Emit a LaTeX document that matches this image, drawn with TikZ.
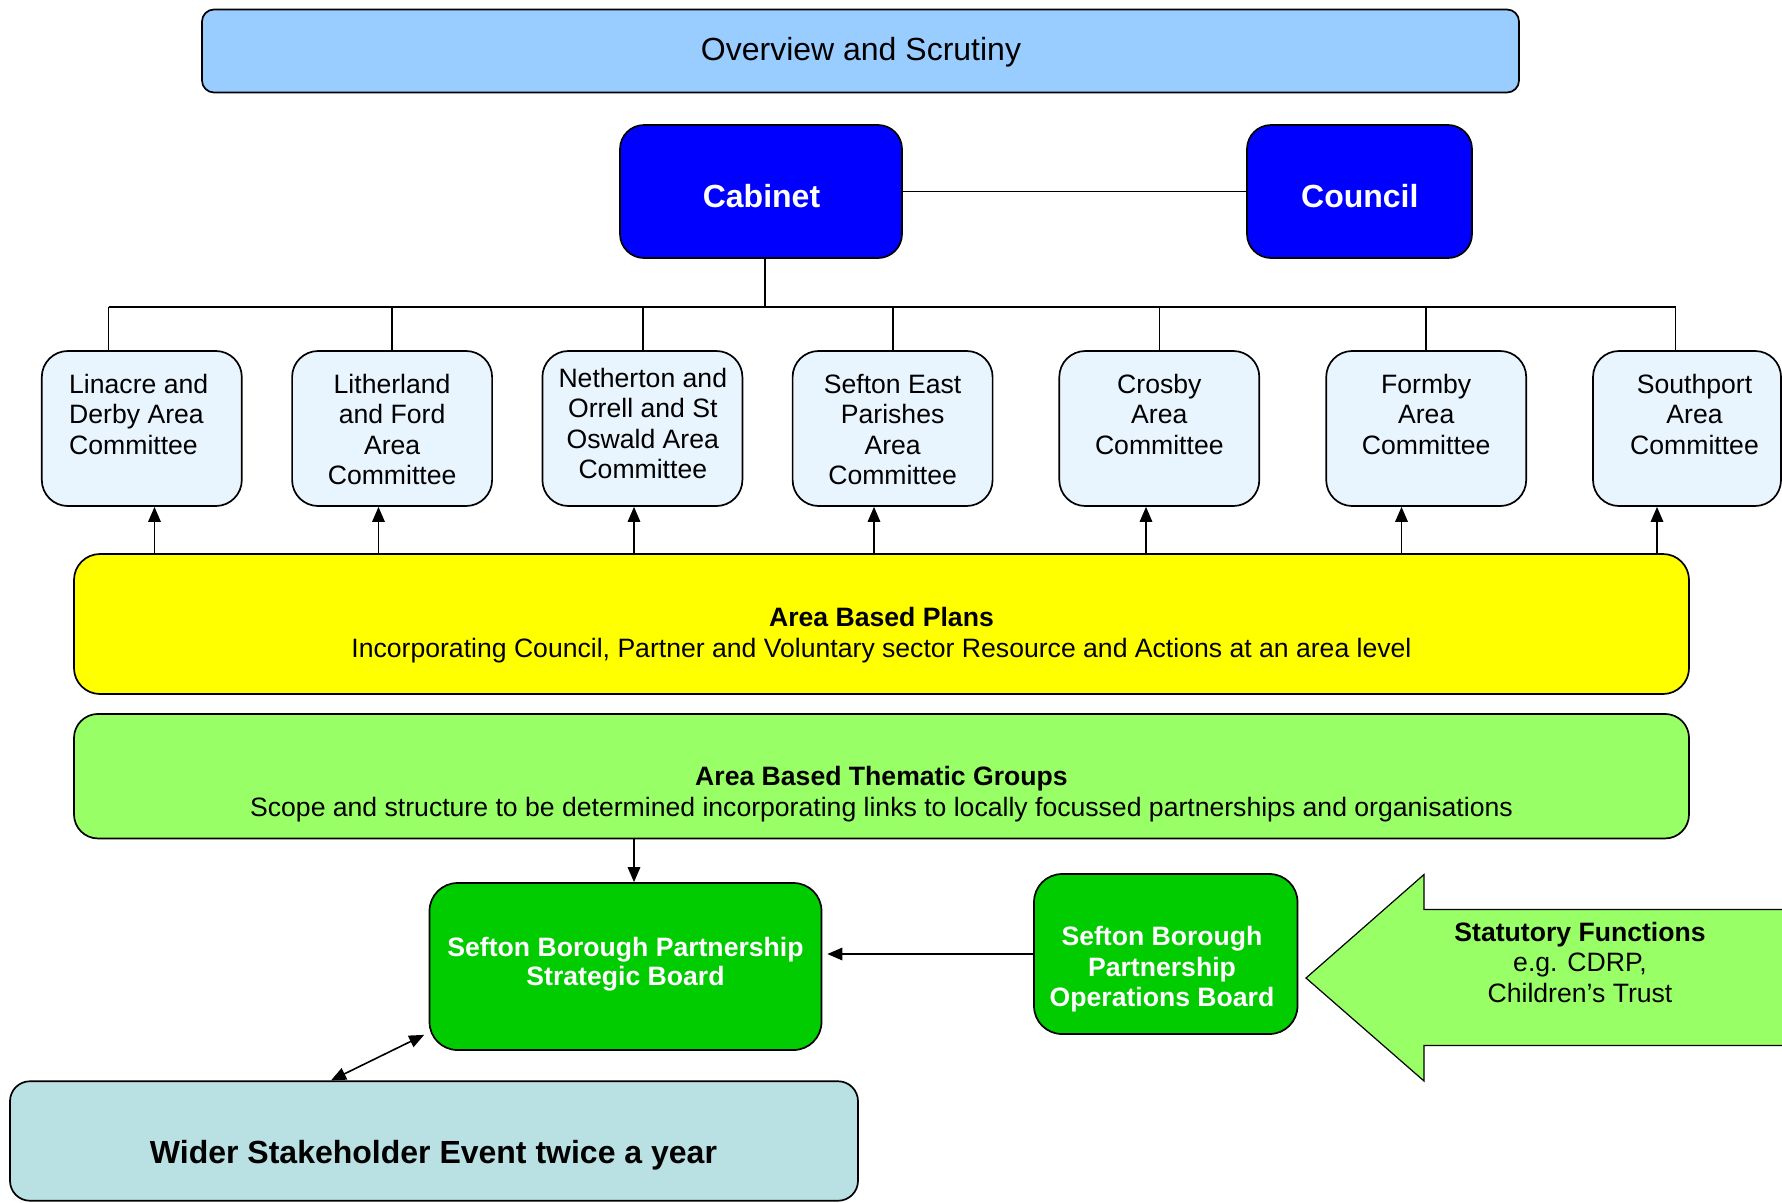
\documentclass[tikz,border=0pt]{standalone}
\usepackage{fontspec}
\setmainfont{Liberation Sans}
\usetikzlibrary{arrows.meta}
\definecolor{ovfill}{HTML}{99CCFF}
\definecolor{cabfill}{HTML}{0000FF}
\definecolor{comfill}{HTML}{E8F4FE}
\definecolor{yelfill}{HTML}{FFFF00}
\definecolor{thmfill}{HTML}{99FF66}
\definecolor{sbpfill}{HTML}{00CC00}
\definecolor{widfill}{HTML}{B9E0E2}
\begin{document}
\begin{tikzpicture}[x=1pt,y=-1pt,
  box/.style={draw=black,line width=1.7pt,inner sep=0pt,rounded corners=#1},
  box/.default=24pt,
  conn/.style={line width=1.6pt},
  arr/.style={line width=1.6pt,-{Triangle[length=15pt,width=12.5pt]}},
  dblarr/.style={line width=1.6pt,{Triangle[length=15pt,width=12.5pt]}-{Triangle[length=15pt,width=12.5pt]}},
  txt/.style={font=\fontsize{26.6}{30.6}\selectfont,align=center,inner sep=0pt,anchor=base},
  bigtxt/.style={font=\fontsize{32}{38}\selectfont\bfseries,inner sep=0pt,anchor=base},
  combox/.style={box=26pt,fill=comfill,minimum width=200pt,minimum height=155pt},
]
\clip (0,0) rectangle (1782,1202);

% Overview and Scrutiny
\node[box=12pt,fill=ovfill,minimum width=1317pt,minimum height=83pt] (ov) at (860.5,51) {};
\node[txt,font=\fontsize{32}{38}\selectfont] (ovt) at (861,60) {Overview and Scrutiny};

% Cabinet and Council
\node[box=24pt,fill=cabfill,minimum width=282pt,minimum height=133pt] (cab) at (761,191.5) {};
\node[bigtxt,text=white] (cabt) at (761.5,207) {Cabinet};
\node[box=24pt,fill=cabfill,minimum width=225pt,minimum height=133pt] (cou) at (1359.5,191.5) {};
\node[bigtxt,text=white] (cout) at (1359.8,207) {Council};
\draw[conn] (cab.east) -- (cou.west);

% Area committees
\node[combox] (c1) at (141.8,428.5) {};
\node[combox] (c2) at (392.1,428.5) {};
\node[combox] (c3) at (642.4,428.5) {};
\node[combox] (c4) at (892.6,428.5) {};
\node[combox] (c5) at (1159.3,428.5) {};
\node[combox] (c6) at (1426.2,428.5) {};
\node[combox,minimum width=188pt] (c7) at (1687,428.5) {};

% (base anchor of a multi-line node = baseline of its last line)
\node[txt,align=left,anchor=base west] (c1t) at (69,454.2) {Linacre and\\Derby Area\\Committee};
\node[txt] (c2t) at (392.1,484.8) {Litherland\\and Ford\\Area\\Committee};
\node[txt] (c3t) at (642.8,478.8) {Netherton and\\Orrell and St\\Oswald Area\\Committee};
\node[txt] (c4t) at (892.6,484.8) {Sefton East\\Parishes\\Area\\Committee};
\node[txt] (c5t) at (1159.3,454.2) {Crosby\\Area\\Committee};
\node[txt] (c6t) at (1426.2,454.2) {Formby\\Area\\Committee};
\node[txt] (c7t) at (1694.5,454.2) {Southport\\Area\\Committee};

% tree from Cabinet
\coordinate (bus) at (765,306.7);
\draw[conn] (765,0 |- cab.south) -- (bus);
\draw[conn] (108.5,0 |- bus) -- (1675.6,0 |- bus);
\draw[conn] (108.5,0 |- bus) -- (108.5,0 |- c1.north);
\draw[conn] (392.1,0 |- bus) -- (392.1,0 |- c2.north);
\draw[conn] (643,0 |- bus) -- (643,0 |- c3.north);
\draw[conn] (893,0 |- bus) -- (893,0 |- c4.north);
\draw[conn] (1159.3,0 |- bus) -- (1159.3,0 |- c5.north);
\draw[conn] (1426.2,0 |- bus) -- (1426.2,0 |- c6.north);
\draw[conn] (1675.6,0 |- bus) -- (1675.6,0 |- c7.north);

% Area Based Plans
\node[box=26pt,fill=yelfill,minimum width=1615pt,minimum height=140pt] (yel) at (881.5,624) {};
\node[txt] (yelt) at (881.5,657) {\textbf{Area Based Plans}\\Incorporating Council, Partner and Voluntary sector Resource and Actions at an area level};

\draw[arr] (154.5,0 |- yel.north) -- (154.5,0 |- c1.south);
\draw[arr] (378.5,0 |- yel.north) -- (378.5,0 |- c2.south);
\draw[arr] (634,0 |- yel.north) -- (634,0 |- c3.south);
\draw[arr] (874,0 |- yel.north) -- (874,0 |- c4.south);
\draw[arr] (1146,0 |- yel.north) -- (1146,0 |- c5.south);
\draw[arr] (1401.5,0 |- yel.north) -- (1401.5,0 |- c6.south);
\draw[arr] (1657,0 |- yel.north) -- (1657,0 |- c7.south);

% Area Based Thematic Groups
\node[box=24pt,fill=thmfill,minimum width=1615pt,minimum height=124.5pt] (thm) at (881.5,776.2) {};
\node[txt] (thmt) at (881.5,816.5) {\textbf{Area Based Thematic Groups}\\Scope and structure to be determined incorporating links to locally focussed partnerships and organisations};

% Strategic Board
\node[box=28pt,fill=sbpfill,minimum width=392pt,minimum height=167pt] (str) at (625.5,966.5) {};
\node[txt,text=white,font=\fontsize{26.6}{29.5}\selectfont\bfseries] (strt) at (625.5,985.5) {Sefton Borough Partnership\\Strategic Board};
\draw[arr] (634,0 |- thm.south) -- (634,0 |- str.north);

% Operations Board
\node[box=28pt,fill=sbpfill,minimum width=263.5pt,minimum height=160pt] (ops) at (1165.75,954) {};
\node[txt,text=white,font=\fontsize{26.6}{30.5}\selectfont\bfseries] (opst) at (1162,1006.5) {Sefton Borough\\Partnership\\Operations Board};
\draw[arr,shorten >=5pt] (ops.west) -- (ops.west -| str.east);

% Statutory Functions arrow
\draw[line width=1.2pt,fill=thmfill] (1306,978) -- (1424,874.5) -- (1424,909.5) -- (1800,909.5) -- (1800,1045.5) -- (1424,1045.5) -- (1424,1081) -- cycle;
\node[txt] (statt) at (1580,1002.5) {\textbf{Statutory Functions}\\e.g. CDRP,\\Children’s Trust};

% Wider Stakeholder Event
\node[box=20pt,fill=widfill,minimum width=848pt,minimum height=119.5pt] (wid) at (434,1141) {};
\node[bigtxt] (widt) at (433.5,1163) {Wider Stakeholder Event twice a year};
\draw[dblarr] (331,0 |- wid.north) -- ([xshift=-4.5pt,yshift=16pt]str.south west);
\end{tikzpicture}
\end{document}
